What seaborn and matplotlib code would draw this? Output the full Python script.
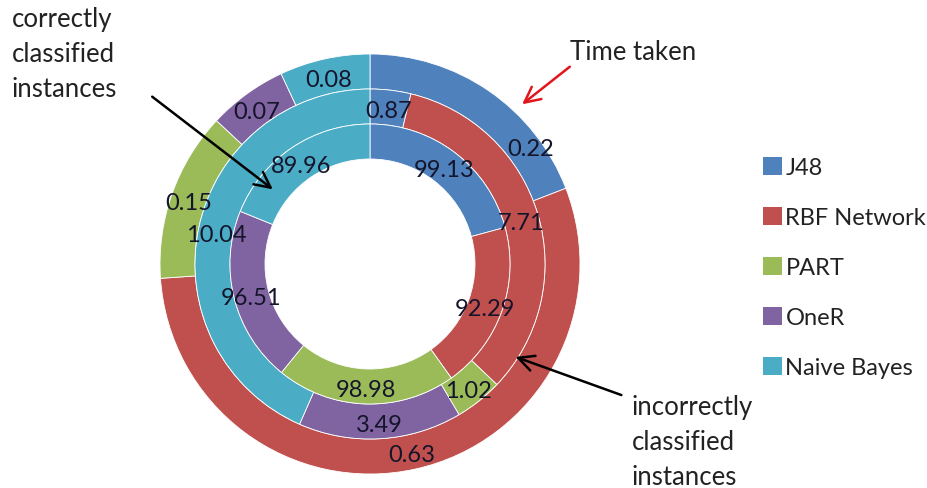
import numpy as np
import matplotlib
matplotlib.use("Agg")
import matplotlib.pyplot as plt
import seaborn as sns
from matplotlib.patches import Patch

# ---- data ----
classifiers = ["J48", "RBF Network", "PART", "OneR", "Naive Bayes"]
correct = [99.13, 92.29, 98.98, 96.51, 89.96]      # inner ring
incorrect = [0.87, 7.71, 1.02, 3.49, 10.04]        # middle ring
time_taken = [0.22, 0.63, 0.15, 0.07, 0.08]        # outer ring

palette = ["#4F81BD", "#C0504D", "#9BBB59", "#8064A2", "#4BACC6"]

sns.set_theme(style="white")
plt.rcParams["font.family"] = ["Lato", "DejaVu Sans"]
colors = sns.color_palette(palette)

W, H = 927, 489
fig = plt.figure(figsize=(W / 100, H / 100), dpi=100)
ax = fig.add_axes([0, 0, 1, 1])


def P(x, y):
    """pixel (top-left origin) -> data coords"""
    return (x, H - y)


cx, cy = P(370, 265)
ring_w = 35
label_color = "#14142a"


def fmt(vals):
    it = iter(vals)
    return lambda p: f"{next(it):.2f}"


rings = [(time_taken, 210), (incorrect, 175), (correct, 140)]
all_auto = []
for vals, r in rings:
    _, _, autos = ax.pie(vals, radius=r, center=(cx, cy), startangle=90, counterclock=False,
                         colors=colors, autopct=fmt(vals), pctdistance=(r - ring_w / 2) / r,
                         wedgeprops=dict(width=ring_w, edgecolor="white", linewidth=0.6),
                         textprops=dict(fontsize=17, color=label_color), frame=True)
    all_auto.append(autos)

# visually centre digits (shift down a little)
for autos in all_auto:
    for t in autos:
        x, y = t.get_position()
        t.set_position((x, y - 3))

# the outer J48 label sits further along its segment in the reference
ang = np.deg2rad(53.5)
all_auto[0][0].set_position((cx + 200 * np.sin(ang), cy + 200 * np.cos(ang) - 3))

ax.set_xlim(0, W)
ax.set_ylim(0, H)
ax.set_aspect("equal")
ax.axis("off")

txt_color = "#222222"
# annotations
ax.text(*P(12, 55), "correctly\nclassified\ninstances", ha="left", va="center",
        fontsize=18.5, color=txt_color, linespacing=1.5)
ax.text(*P(632, 443), "incorrectly\nclassified\ninstances", ha="left", va="center",
        fontsize=18.5, color=txt_color, linespacing=1.5)
ax.text(*P(570, 53), "Time taken", ha="left", va="center", fontsize=18.5, color=txt_color)

ax.annotate("", xy=P(275, 192), xytext=P(150, 96),
            arrowprops=dict(arrowstyle="->", color="black", lw=1.8, mutation_scale=28))
ax.annotate("", xy=P(520, 107), xytext=P(572, 66),
            arrowprops=dict(arrowstyle="->", color="#E3151B", lw=1.8, mutation_scale=28))
ax.annotate("", xy=P(513, 357), xytext=P(624, 397),
            arrowprops=dict(arrowstyle="->", color="black", lw=1.8, mutation_scale=28))

handles = [Patch(facecolor=c, edgecolor="none", label=n) for c, n in zip(colors, classifiers)]
fig.legend(handles=handles, loc="upper left", bbox_to_anchor=(763 / W, 1 - 158 / H),
           frameon=False, fontsize=17, handlelength=0.8, handleheight=0.8,
           handletextpad=0.15, labelspacing=1.22, borderpad=0, borderaxespad=0,
           labelcolor=txt_color)

fig.savefig("out.png", dpi=100)
